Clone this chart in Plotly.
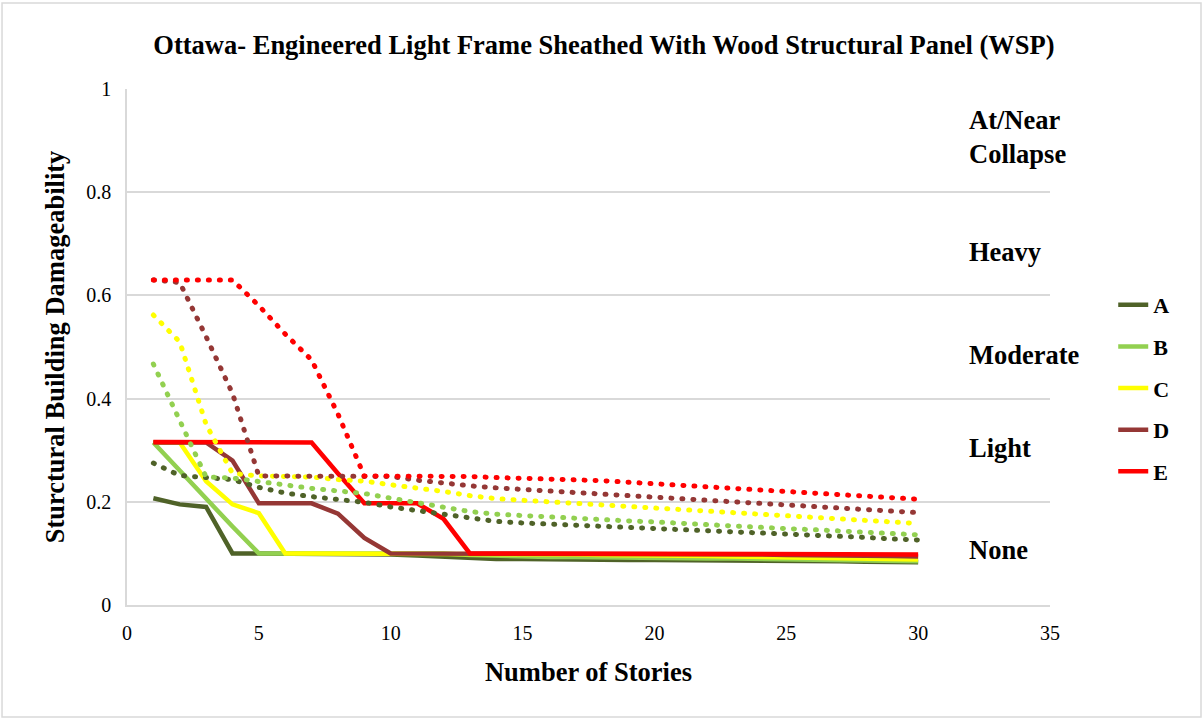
import plotly.graph_objects as go

stories = list(range(1, 31))

names = ["A", "B", "C", "D", "E"]
colors = ["#4F6228", "#92D050", "#FFFF00", "#953735", "#FF0000"]

# Solid lines (lower bound)
A_low = [0.207, 0.195, 0.19, 0.1, 0.1, 0.1, 0.1, 0.1, 0.1, 0.098, 0.096, 0.093, 0.09, 0.089, 0.089,
         0.088, 0.088, 0.088, 0.087, 0.087, 0.087, 0.086, 0.086, 0.086, 0.085, 0.085, 0.085, 0.084, 0.084, 0.083]
B_low = [0.315, 0.26, 0.205, 0.152, 0.1, 0.1, 0.1, 0.1, 0.1, 0.1, 0.1, 0.1, 0.097, 0.095, 0.094,
         0.093, 0.093, 0.092, 0.092, 0.091, 0.091, 0.09, 0.09, 0.089, 0.089, 0.088, 0.088, 0.087, 0.086, 0.085]
C_low = [0.315, 0.315, 0.24, 0.195, 0.178, 0.1, 0.1, 0.1, 0.1, 0.1, 0.1, 0.1, 0.1, 0.1, 0.1,
         0.099, 0.098, 0.097, 0.097, 0.096, 0.095, 0.095, 0.094, 0.093, 0.093, 0.092, 0.091, 0.09, 0.089, 0.088]
D_low = [0.315, 0.315, 0.315, 0.28, 0.197, 0.197, 0.197, 0.177, 0.13, 0.1, 0.1, 0.1, 0.1, 0.1, 0.1,
         0.1, 0.1, 0.1, 0.1, 0.1, 0.099, 0.099, 0.098, 0.098, 0.097, 0.097, 0.096, 0.096, 0.095, 0.094]
E_low = [0.316, 0.316, 0.316, 0.316, 0.316, 0.315, 0.315, 0.255, 0.197, 0.197, 0.197, 0.167, 0.1, 0.1, 0.1,
         0.1, 0.1, 0.1, 0.1, 0.1, 0.1, 0.1, 0.1, 0.1, 0.1, 0.1, 0.099, 0.099, 0.098, 0.098]

# Dotted lines (upper bound)
A_up = [0.275, 0.251, 0.247, 0.243, 0.228, 0.217, 0.21, 0.205, 0.199, 0.19, 0.183, 0.177, 0.168, 0.162, 0.159,
        0.157, 0.155, 0.153, 0.151, 0.148, 0.146, 0.144, 0.141, 0.139, 0.137, 0.135, 0.133, 0.131, 0.128, 0.126]
B_up = [0.467, 0.355, 0.248, 0.246, 0.239, 0.232, 0.226, 0.221, 0.216, 0.207, 0.199, 0.191, 0.181, 0.176, 0.173,
        0.171, 0.168, 0.166, 0.163, 0.161, 0.158, 0.156, 0.153, 0.151, 0.148, 0.146, 0.143, 0.141, 0.138, 0.136]
C_up = [0.562, 0.51, 0.35, 0.255, 0.25, 0.25, 0.248, 0.243, 0.24, 0.233, 0.227, 0.22, 0.212, 0.206, 0.203,
        0.2, 0.198, 0.195, 0.192, 0.189, 0.186, 0.183, 0.18, 0.177, 0.173, 0.17, 0.167, 0.164, 0.161, 0.158]
D_up = [0.63, 0.625, 0.52, 0.41, 0.25, 0.25, 0.25, 0.25, 0.25, 0.249, 0.242, 0.236, 0.231, 0.227, 0.224,
        0.221, 0.219, 0.216, 0.213, 0.21, 0.207, 0.204, 0.201, 0.198, 0.195, 0.191, 0.188, 0.185, 0.182, 0.179]
E_up = [0.63, 0.63, 0.63, 0.63, 0.58, 0.525, 0.475, 0.37, 0.25, 0.25, 0.25, 0.25, 0.249, 0.247, 0.246,
        0.245, 0.243, 0.241, 0.238, 0.235, 0.232, 0.229, 0.226, 0.223, 0.22, 0.217, 0.214, 0.211, 0.208, 0.205]

low_series = [A_low, B_low, C_low, D_low, E_low]
up_series = [A_up, B_up, C_up, D_up, E_up]

damage_states = ["At/Near<br>Collapse", "Heavy", "Moderate", "Light", "None"]
damage_y = [0.907, 0.684, 0.484, 0.304, 0.107]

x_ticks = [0, 5, 10, 15, 20, 25, 30, 35]
y_ticks = [0, 0.2, 0.4, 0.6, 0.8, 1]
y_tick_text = ["0", "0.2", "0.4", "0.6", "0.8", "1"]

FONT = "Liberation Serif"
BOLD = 26.5

fig = go.Figure()
for n, c, ys in zip(names, colors, low_series):
    fig.add_trace(go.Scatter(x=stories, y=ys, mode="lines", name="<b>" + n + "</b>", legendgroup=n,
                             line=dict(color=c, width=4.5)))
for n, c, ys in zip(names, colors, up_series):
    fig.add_trace(go.Scatter(x=stories, y=ys, mode="lines", name=n + " upper", showlegend=False,
                             line=dict(color=c, width=5, dash="1px,10px")))

for t, yv in zip(damage_states, damage_y):
    fig.add_annotation(x=31.85, y=yv, xref="x", yref="y", text="<b>" + t + "</b>", showarrow=False,
                       xanchor="left", yanchor="middle", align="left",
                       font=dict(family=FONT, size=BOLD, color="#000000"))

fig.add_shape(type="rect", xref="paper", yref="paper", x0=-0.1354, x1=1.1636, y0=-0.217, y1=1.1667,
              line=dict(color="#D9D9D9", width=1.5), layer="below")

fig.update_layout(
    width=1204, height=719,
    margin=dict(l=127, r=154, t=89, b=114),
    paper_bgcolor="white", plot_bgcolor="white",
    title=dict(text="<b>Ottawa- Engineered Light Frame Sheathed With Wood Structural Panel (WSP)</b>",
               x=604 / 1204, xanchor="center", y=1 - 45 / 719, yanchor="middle",
               font=dict(family=FONT, size=BOLD, color="#000000")),
    font=dict(family=FONT, color="#000000"),
    legend=dict(x=1.0685, y=0.622, xanchor="left", yanchor="top", tracegroupgap=10,
                font=dict(family=FONT, size=22, color="#000000"), bgcolor="rgba(0,0,0,0)"),
    xaxis=dict(range=[0, 35], tickvals=x_ticks, showgrid=False, zeroline=False,
               showline=True, linecolor="#D9D9D9", linewidth=1.5,
               ticks="outside", ticklen=9, tickcolor="rgba(0,0,0,0)",
               tickfont=dict(family=FONT, size=20, color="#000000"),
               title=dict(text="<b>Number of Stories</b>", standoff=20,
                          font=dict(family=FONT, size=BOLD, color="#000000"))),
    yaxis=dict(range=[0, 1], tickvals=y_ticks, ticktext=y_tick_text, showgrid=True,
               gridcolor="#D9D9D9", gridwidth=1.5, zeroline=False,
               showline=True, linecolor="#D9D9D9", linewidth=1.5,
               ticks="outside", ticklen=10, tickcolor="rgba(0,0,0,0)",
               tickfont=dict(family=FONT, size=20, color="#000000"),
               title=dict(text="<b>Sturctural Building Damageability</b>", standoff=14,
                          font=dict(family=FONT, size=BOLD, color="#000000"))),
)

post = (
    "document.body.style.margin='0px';"
    "var gd=document.getElementById('{plot_id}');"
    "gd.querySelectorAll('.scatterlayer .trace').forEach(function(t,i){"
    "if(i>=5){t.querySelectorAll('path.js-line').forEach(function(p){p.style.strokeLinecap='round';});}});"
)

fig.write_html("out.html", post_script=post, config={"displayModeBar": False})
